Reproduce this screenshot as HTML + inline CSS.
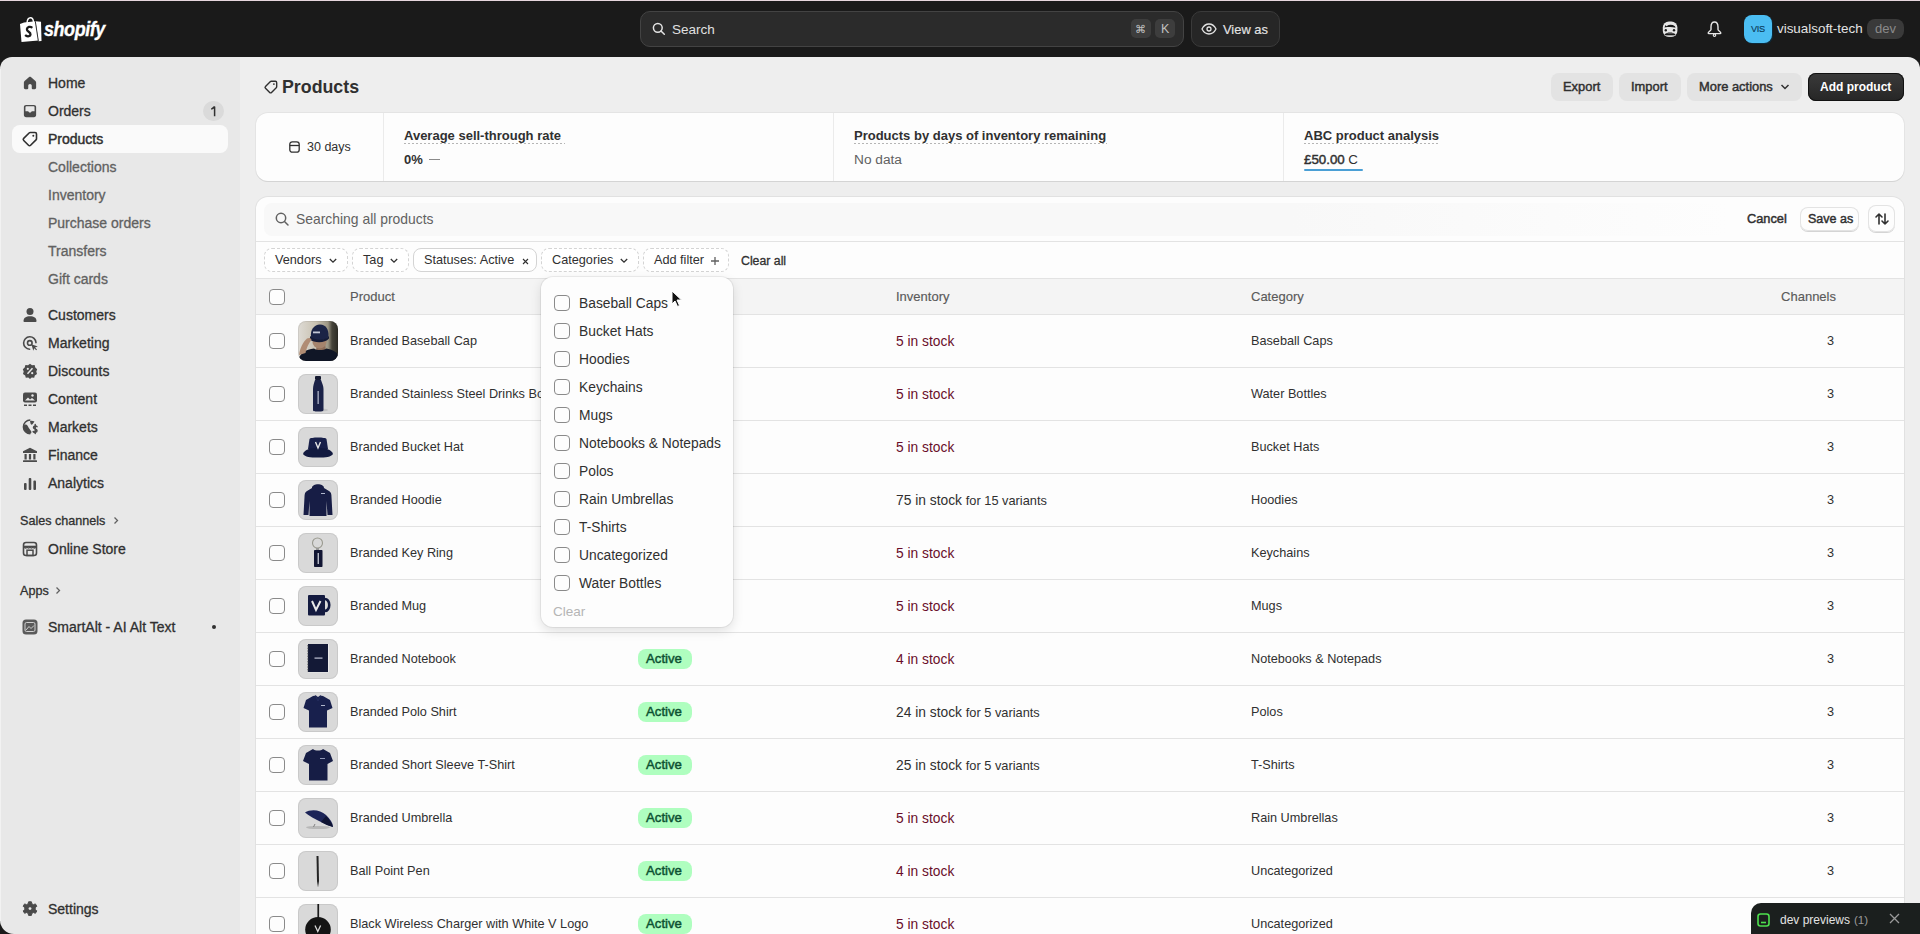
<!DOCTYPE html>
<html><head><meta charset="utf-8"><title>Products</title><style>
*{box-sizing:border-box;margin:0;padding:0}
html,body{width:1920px;height:934px;overflow:hidden}
body{position:relative;background:#1a1a1a;font-family:"Liberation Sans",sans-serif;color:#303030}
.a{position:absolute;white-space:nowrap}
.m{-webkit-text-stroke:0.3px currentColor}
.s{-webkit-text-stroke:0.15px currentColor}
.m2{-webkit-text-stroke:0.45px currentColor}
svg.a{overflow:visible}
</style></head><body>
<div class="a" style="left:0px;top:0px;width:1920px;height:1px;background:#e6d6dd"></div>
<div class="a" style="left:0px;top:57px;width:240px;height:877px;background:#e8e8e8;border-top-left-radius:12px;border-bottom-left-radius:14px"></div>
<div class="a" style="left:0px;top:69px;width:1px;height:852px;background:#f2f2f2"></div>
<div class="a" style="left:240px;top:57px;width:1680px;height:877px;background:#eeeeee;border-top-right-radius:12px"></div>
<svg class="a" style="left:20px;top:17px;" width="22" height="25" viewBox="0 0 22 25"><path d="M4 5.5 L15.5 4.2 L18.5 23.5 L1.5 25 L0 7 Z" fill="#fff"/>
<path d="M15.5 4.2 L21 4.8 L21.5 24 L18.5 24.2 Z" fill="#fff"/>
<path d="M15.3 4.3 L18.3 23.9" stroke="#1a1a1a" stroke-width=".9" fill="none"/>
<path d="M7 6.5 C7.2 2.5 9 0.8 10.5 0.8 C12.2 0.8 13.3 2.3 13.5 5.2" stroke="#fff" stroke-width="1.4" fill="none"/>
<path d="M11.6 10.2 C10.5 9.5 7.2 9.5 6.9 12.2 C6.6 14.8 10.8 14.8 10.5 17.5 C10.3 19.4 7.8 19.8 5.8 18.6" stroke="#1a1a1a" stroke-width="2.3" fill="none" stroke-linecap="round"/></svg>
<div class="a " style="left:44px;top:19.07px;font-size:20px;line-height:20px;font-weight:bold;color:#fff;font-style:italic;letter-spacing:-0.5px;transform:scaleX(.9);transform-origin:0 0;-webkit-text-stroke:.35px #fff">shopify</div>
<div class="a" style="left:640px;top:11px;width:544px;height:36px;background:#2b2b2b;border:1px solid #434343;border-radius:10px"></div>
<svg class="a" style="left:652px;top:22px;" width="14" height="14" viewBox="0 0 14 14"><circle cx="5.8" cy="5.8" r="4.4" stroke="#e3e3e3" stroke-width="1.5" fill="none"/><path d="M9 9 L12.3 12.3" stroke="#e3e3e3" stroke-width="1.5" stroke-linecap="round"/></svg>
<div class="a " style="left:672px;top:20.32px;font-size:13.5px;line-height:20px;font-weight:normal;color:#e0e0e0;">Search</div>
<div class="a" style="left:1131px;top:19px;width:20px;height:19px;background:#3d3d3d;border-radius:5px"></div>
<div class="a " style="left:1135px;top:19.19px;font-size:11px;line-height:20px;font-weight:normal;color:#c0c0c0;">&#8984;</div>
<div class="a" style="left:1155px;top:19px;width:20px;height:19px;background:#3d3d3d;border-radius:5px"></div>
<div class="a " style="left:1161px;top:19.17px;font-size:12.5px;line-height:20px;font-weight:normal;color:#c0c0c0;">K</div>
<div class="a" style="left:1191px;top:11px;width:89px;height:36px;background:#262626;border:1px solid #3a3a3a;border-radius:10px"></div>
<svg class="a" style="left:1201px;top:23px;" width="16" height="12" viewBox="0 0 16 12"><path d="M1 6 C3 2 5.5 1 8 1 C10.5 1 13 2 15 6 C13 10 10.5 11 8 11 C5.5 11 3 10 1 6 Z" stroke="#e3e3e3" stroke-width="1.3" fill="none"/><circle cx="8" cy="6" r="2" stroke="#e3e3e3" stroke-width="1.3" fill="none"/></svg>
<div class="a s" style="left:1223px;top:20.03px;font-size:12.9px;line-height:20px;font-weight:normal;color:#e3e3e3;">View as</div>
<svg class="a" style="left:1662px;top:21px;" width="16" height="16" viewBox="0 0 16 16"><rect x="0.8" y="0.5" width="14.6" height="15.5" rx="6" fill="#e6e6e6"/><path d="M2.5 6.5 L3.5 4 L4.5 5.2 C7 3.5 10 3.3 13 5.2 L13.5 6.8 C10 5.8 6.5 6 2.5 6.5 Z" fill="#1a1a1a"/><circle cx="3.8" cy="9.3" r="1.2" fill="#1a1a1a"/><circle cx="12" cy="9.3" r="1.2" fill="#1a1a1a"/><path d="M3 13 C5 11 11 11 13 13 C11 12.3 5 12.3 3 13 Z" fill="#1a1a1a"/><path d="M2.5 13.2 L5 12.5 L11 12.5 L13.5 13.2 L13 14.2 L3 14.2 Z" fill="#1a1a1a"/><path d="M3.5 14.2 L12.5 14.2 C12 15.5 4 15.5 3.5 14.2 Z" fill="#9a9a9a"/></svg>
<svg class="a" style="left:1707px;top:21px;" width="15" height="16" viewBox="0 0 15 16"><path d="M7.5 1 C5.2 1 4 3.2 4 6 L4 8.5 C4 9.8 1.2 10.8 1.2 12 C1.2 12.4 1.5 12.6 2 12.6 L13 12.6 C13.5 12.6 13.8 12.4 13.8 12 C13.8 10.8 11 9.8 11 8.5 L11 6 C11 3.2 9.8 1 7.5 1 Z" stroke="#e6e6e6" stroke-width="1.4" fill="none" stroke-linejoin="round"/><circle cx="7.5" cy="14.2" r="1.2" stroke="#e6e6e6" stroke-width="1.2" fill="none"/></svg>
<div class="a" style="left:1744px;top:15px;width:28px;height:28px;background:#4bbdf2;border-radius:8px;box-shadow:1px 1px 0 #0d2a3a"></div>
<div class="a s" style="left:1751px;top:18.81px;font-size:9.2px;line-height:20px;font-weight:normal;color:#0b3b5a;letter-spacing:-0.4px">VIS</div>
<div class="a " style="left:1777px;top:19.36px;font-size:13.4px;line-height:20px;font-weight:normal;color:#e3e3e3;">visualsoft-tech</div>
<div class="a" style="left:1867px;top:19px;width:37px;height:20px;background:#3a3a3a;border-radius:8px"></div>
<div class="a " style="left:1875px;top:18.50px;font-size:13px;line-height:20px;font-weight:normal;color:#8a8a8a;">dev</div>
<svg class="a" style="left:23px;top:76px;" width="14" height="14" viewBox="0 0 16 16"><path d="M7 1.2 C7.6 0.7 8.4 0.7 9 1.2 L14.2 5.6 C14.7 6 15 6.6 15 7.3 L15 13.5 C15 14.4 14.3 15 13.5 15 L11 15 C10.5 15 10 14.6 10 14 L10 11 C10 9.9 9.1 9 8 9 C6.9 9 6 9.9 6 11 L6 14 C6 14.6 5.5 15 5 15 L2.5 15 C1.7 15 1 14.4 1 13.5 L1 7.3 C1 6.6 1.3 6 1.8 5.6 Z" fill="#4a4a4a"/></svg>
<div class="a m" style="left:48px;top:73.15px;font-size:14px;line-height:20px;font-weight:normal;color:#303030;">Home</div>
<svg class="a" style="left:23px;top:104px;" width="14" height="14" viewBox="0 0 16 16"><path d="M3.5 1 L12.5 1 C14 1 15 2 15 3.5 L15 12.5 C15 14 14 15 12.5 15 L3.5 15 C2 15 1 14 1 12.5 L1 3.5 C1 2 2 1 3.5 1 Z M2.8 8.2 L5.8 8.2 C6.4 8.2 6.6 9.8 8 9.8 C9.4 9.8 9.6 8.2 10.2 8.2 L13.2 8.2 L13.2 3.8 C13.2 3.1 12.8 2.7 12.2 2.7 L3.8 2.7 C3.2 2.7 2.8 3.1 2.8 3.8 Z" fill="#4a4a4a" fill-rule="evenodd"/></svg>
<div class="a m" style="left:48px;top:101.15px;font-size:14px;line-height:20px;font-weight:normal;color:#303030;">Orders</div>
<div class="a" style="left:203px;top:101px;width:21px;height:20px;background:#dadada;border-radius:10px"></div>
<svg class="a" style="left:210px;top:105.8px;" width="8" height="11" viewBox="0 0 8 11"><path d="M4.6 10.2 L4.6 1 L4 1 C3.3 2.2 2.3 2.8 1.2 3.1" stroke="#303030" stroke-width="1.5" fill="none" stroke-linejoin="round"/></svg>
<div class="a" style="left:12px;top:125px;width:216px;height:28px;background:#fafafa;border-radius:8px"></div>
<svg class="a" style="left:22px;top:131px;" width="16" height="16" viewBox="0 0 16 16"><path d="M8.2 1.5 L13 1.5 C13.8 1.5 14.5 2.2 14.5 3 L14.5 7.8 C14.5 8.2 14.3 8.6 14 8.9 L8.6 14.3 C8 14.9 7.1 14.9 6.5 14.3 L1.7 9.5 C1.1 8.9 1.1 8 1.7 7.4 L7.1 2 C7.4 1.7 7.8 1.5 8.2 1.5 Z" stroke="#303030" stroke-width="1.6" fill="none" stroke-linejoin="round"/><circle cx="11.3" cy="4.7" r="1" fill="#303030"/></svg>
<div class="a m2" style="left:48px;top:129.15px;font-size:14px;line-height:20px;font-weight:normal;color:#303030;">Products</div>
<div class="a m" style="left:48px;top:157.15px;font-size:14px;line-height:20px;font-weight:normal;color:#616161;">Collections</div>
<div class="a m" style="left:48px;top:185.15px;font-size:14px;line-height:20px;font-weight:normal;color:#616161;">Inventory</div>
<div class="a m" style="left:48px;top:213.15px;font-size:14px;line-height:20px;font-weight:normal;color:#616161;">Purchase orders</div>
<div class="a m" style="left:48px;top:241.15px;font-size:14px;line-height:20px;font-weight:normal;color:#616161;">Transfers</div>
<div class="a m" style="left:48px;top:269.15px;font-size:14px;line-height:20px;font-weight:normal;color:#616161;">Gift cards</div>
<svg class="a" style="left:22px;top:307px;" width="16" height="16" viewBox="0 0 16 16"><circle cx="8" cy="4.5" r="3.5" fill="#4a4a4a"/><path d="M1.5 14.2 C1.5 10.8 4 9.3 8 9.3 C12 9.3 14.5 10.8 14.5 14.2 C14.5 14.7 14.1 15 13.6 15 L2.4 15 C1.9 15 1.5 14.7 1.5 14.2 Z" fill="#4a4a4a"/></svg>
<div class="a m" style="left:48px;top:305.15px;font-size:14px;line-height:20px;font-weight:normal;color:#303030;">Customers</div>
<svg class="a" style="left:22px;top:335px;" width="16" height="16" viewBox="0 0 16 16"><path d="M14 7.6 A6.2 6.2 0 1 0 7.6 14.2" stroke="#4a4a4a" stroke-width="1.6" fill="none" stroke-linecap="round"/><circle cx="7.8" cy="7.9" r="2.3" stroke="#4a4a4a" stroke-width="1.6" fill="none"/><path d="M9.4 9.3 L15.8 11.4 L13 12.4 L15 14.4 L14.2 15.2 L12.2 13.2 L11.3 15.8 Z" fill="#4a4a4a"/></svg>
<div class="a m" style="left:48px;top:333.15px;font-size:14px;line-height:20px;font-weight:normal;color:#303030;">Marketing</div>
<svg class="a" style="left:22px;top:363px;" width="16" height="16" viewBox="0 0 16 16"><path d="M8 0.8 L10 2.3 L12.6 2.1 L13.3 4.5 L15.2 6.2 L14.3 8.6 L15 11 L12.8 12.4 L12.2 14.8 L9.7 14.6 L8 16 L6.3 14.6 L3.8 14.8 L3.2 12.4 L1 11 L1.7 8.6 L0.8 6.2 L2.7 4.5 L3.4 2.1 L6 2.3 Z" fill="#4a4a4a"/><path d="M5.5 10.8 L10.5 5.2" stroke="#e8e8e8" stroke-width="1.5"/><circle cx="5.8" cy="5.8" r="1.1" fill="#e8e8e8"/><circle cx="10.2" cy="10.2" r="1.1" fill="#e8e8e8"/></svg>
<div class="a m" style="left:48px;top:361.15px;font-size:14px;line-height:20px;font-weight:normal;color:#303030;">Discounts</div>
<svg class="a" style="left:22px;top:391px;" width="16" height="16" viewBox="0 0 16 16"><rect x="1" y="1.5" width="14" height="10" rx="2" fill="#4a4a4a"/><path d="M3 9.5 L6 6.5 L8 8.5 L10 7 L13 9.5 Z" fill="#e8e8e8"/><circle cx="10.5" cy="4.5" r="1.2" fill="#e8e8e8"/><path d="M2 14.2 L14 14.2" stroke="#4a4a4a" stroke-width="1.6" stroke-dasharray="3 1.5"/></svg>
<div class="a m" style="left:48px;top:389.15px;font-size:14px;line-height:20px;font-weight:normal;color:#303030;">Content</div>
<svg class="a" style="left:22px;top:419px;" width="16" height="16" viewBox="0 0 16 16"><path d="M8.3 1 A6.9 6.9 0 1 0 8.3 14.8" stroke="#4a4a4a" stroke-width="1.5" fill="none"/><path d="M2.2 6 C3.5 5 5 5.5 6 7.5 C7 9.5 8.5 11 9.5 13 L9 14.6 C5 14.8 1.5 11.5 1.6 8 Z" fill="#4a4a4a"/><path d="M8 2 C9 1.5 11 1.6 12.5 2.6 L10.5 5.3 C9.5 6 8.7 5.6 8.5 4.5 Z" fill="#4a4a4a"/><path d="M15 7.6 C14.4 6.8 11.5 6.6 11.5 8.4 C11.5 10.2 15 9.8 15 11.8 C15 13.6 12.2 13.6 11.2 12.6 M13.2 5.5 L13.2 14.5" stroke="#4a4a4a" stroke-width="1.5" fill="none" stroke-linecap="round"/></svg>
<div class="a m" style="left:48px;top:417.15px;font-size:14px;line-height:20px;font-weight:normal;color:#303030;">Markets</div>
<svg class="a" style="left:22px;top:447px;" width="16" height="16" viewBox="0 0 16 16"><path d="M8 0.8 L15 4.3 L15 6 L1 6 L1 4.3 Z" fill="#4a4a4a"/><rect x="2.5" y="7" width="2.2" height="5.5" fill="#4a4a4a"/><rect x="6.9" y="7" width="2.2" height="5.5" fill="#4a4a4a"/><rect x="11.3" y="7" width="2.2" height="5.5" fill="#4a4a4a"/><rect x="1" y="13.3" width="14" height="1.8" rx=".5" fill="#4a4a4a"/></svg>
<div class="a m" style="left:48px;top:445.15px;font-size:14px;line-height:20px;font-weight:normal;color:#303030;">Finance</div>
<svg class="a" style="left:22px;top:475px;" width="16" height="16" viewBox="0 0 16 16"><rect x="2" y="8" width="2.6" height="7" rx="1" fill="#4a4a4a"/><rect x="6.7" y="3" width="2.6" height="12" rx="1" fill="#4a4a4a"/><rect x="11.4" y="5.5" width="2.6" height="9.5" rx="1" fill="#4a4a4a"/></svg>
<div class="a m" style="left:48px;top:473.15px;font-size:14px;line-height:20px;font-weight:normal;color:#303030;">Analytics</div>
<div class="a m" style="left:20px;top:510.63px;font-size:12.6px;line-height:20px;font-weight:normal;color:#303030;">Sales channels</div>
<svg class="a" style="left:112px;top:516px;" width="8" height="9" viewBox="0 0 8 9"><path d="M2.5 1.5 L5.5 4.5 L2.5 7.5" stroke="#616161" stroke-width="1.3" fill="none"/></svg>
<svg class="a" style="left:22px;top:541px;" width="16" height="16" viewBox="0 0 16 16"><rect x="1.5" y="1.5" width="13" height="13" rx="2.5" stroke="#4a4a4a" stroke-width="1.6" fill="none"/><path d="M1.5 5.5 L14.5 5.5" stroke="#4a4a4a" stroke-width="1.6"/><path d="M2.5 5.5 C2.5 7.5 5 7.5 5.3 5.5 C5.5 7.5 7.8 7.5 8 5.5 C8.2 7.5 10.5 7.5 10.7 5.5 C11 7.5 13.5 7.5 13.5 5.5" stroke="#4a4a4a" stroke-width="1.4" fill="none"/><rect x="5" y="9.2" width="6" height="5.3" stroke="#4a4a4a" stroke-width="1.5" fill="none"/></svg>
<div class="a m" style="left:48px;top:539.15px;font-size:14px;line-height:20px;font-weight:normal;color:#303030;">Online Store</div>
<div class="a m" style="left:20px;top:580.63px;font-size:12.6px;line-height:20px;font-weight:normal;color:#303030;">Apps</div>
<svg class="a" style="left:54px;top:586px;" width="8" height="9" viewBox="0 0 8 9"><path d="M2.5 1.5 L5.5 4.5 L2.5 7.5" stroke="#616161" stroke-width="1.3" fill="none"/></svg>
<svg class="a" style="left:22px;top:619px;" width="16" height="16" viewBox="0 0 16 16"><rect x="0.5" y="0.5" width="15" height="15" rx="3.5" fill="#5a5a5a"/><rect x="3" y="3.5" width="10" height="9" rx="1.5" stroke="#d0d0d0" stroke-width="1" fill="none"/><path d="M4 11 L7 7.5 L9 9.5 L12 6.5" stroke="#d0d0d0" stroke-width="1" fill="none"/></svg>
<div class="a m" style="left:48px;top:617.15px;font-size:14px;line-height:20px;font-weight:normal;color:#303030;">SmartAlt - AI Alt Text</div>
<div class="a" style="left:212px;top:625px;width:4px;height:4px;background:#303030;border-radius:50%"></div>
<svg class="a" style="left:22px;top:901px;" width="16" height="16" viewBox="0 0 16 16"><path d="M6.6 0.8 L9.4 0.8 L9.9 2.9 L11.4 3.7 L13.4 2.9 L14.8 5.3 L13.2 6.7 L13.2 8.5 L14.8 9.9 L13.4 12.3 L11.4 11.5 L9.9 12.3 L9.4 14.4 L6.6 14.4 L6.1 12.3 L4.6 11.5 L2.6 12.3 L1.2 9.9 L2.8 8.5 L2.8 6.7 L1.2 5.3 L2.6 2.9 L4.6 3.7 L6.1 2.9 Z" fill="#4a4a4a" stroke="#4a4a4a" stroke-width="1" stroke-linejoin="round"/><circle cx="8" cy="7.6" r="1.4" fill="#e8e8e8"/></svg>
<div class="a m" style="left:48px;top:899.15px;font-size:14px;line-height:20px;font-weight:normal;color:#303030;">Settings</div>
<svg class="a" style="left:264px;top:80px;" width="14" height="14" viewBox="0 0 16 16"><path d="M8.2 1.5 L13 1.5 C13.8 1.5 14.5 2.2 14.5 3 L14.5 7.8 C14.5 8.2 14.3 8.6 14 8.9 L8.6 14.3 C8 14.9 7.1 14.9 6.5 14.3 L1.7 9.5 C1.1 8.9 1.1 8 1.7 7.4 L7.1 2 C7.4 1.7 7.8 1.5 8.2 1.5 Z" stroke="#303030" stroke-width="1.6" fill="none" stroke-linejoin="round"/><circle cx="11.3" cy="4.7" r="1" fill="#303030"/></svg>
<div class="a " style="left:282px;top:76.83px;font-size:17.8px;line-height:20px;font-weight:bold;color:#303030;">Products</div>
<div class="a" style="left:1551px;top:73px;width:62px;height:28px;background:#e3e3e3;border-radius:8px"></div>
<div class="a m2" style="left:1563px;top:76.53px;font-size:12.9px;line-height:20px;font-weight:normal;color:#303030;">Export</div>
<div class="a" style="left:1619px;top:73px;width:62px;height:28px;background:#e3e3e3;border-radius:8px"></div>
<div class="a m2" style="left:1631px;top:76.53px;font-size:12.9px;line-height:20px;font-weight:normal;color:#303030;">Import</div>
<div class="a" style="left:1687px;top:73px;width:115px;height:28px;background:#e3e3e3;border-radius:8px"></div>
<div class="a m2" style="left:1699px;top:76.53px;font-size:12.9px;line-height:20px;font-weight:normal;color:#303030;">More actions</div>
<svg class="a" style="left:1780px;top:83px;" width="10" height="8" viewBox="0 0 10 8"><path d="M1.5 2 L5 5.5 L8.5 2" stroke="#303030" stroke-width="1.5" fill="none"/></svg>
<div class="a" style="left:1808px;top:73px;width:96px;height:28px;background:linear-gradient(#3a3a3a,#262626);border-radius:8px;box-shadow:0 0 0 1px #111 inset,0 1px 0 rgba(255,255,255,.15) inset"></div>
<div class="a " style="left:1820px;top:76.84px;font-size:12px;line-height:20px;font-weight:bold;color:#fff;">Add product</div>
<div class="a" style="left:256px;top:113px;width:1648px;height:68px;background:#fdfdfd;border-radius:12px;box-shadow:0 1px 0 #d4d4d4, 0 0 0 1px rgba(0,0,0,.04)"></div>
<div class="a" style="left:383px;top:113px;width:1px;height:68px;background:#ebebeb"></div>
<div class="a" style="left:833px;top:113px;width:1px;height:68px;background:#ebebeb"></div>
<div class="a" style="left:1283px;top:113px;width:1px;height:68px;background:#ebebeb"></div>
<svg class="a" style="left:289px;top:141px;" width="11" height="12" viewBox="0 0 11 12"><rect x="0.8" y="0.8" width="9.4" height="10.4" rx="2.5" stroke="#303030" stroke-width="1.3" fill="none"/><path d="M0.8 4.5 L10.2 4.5" stroke="#303030" stroke-width="1.3"/></svg>
<div class="a " style="left:307px;top:137.17px;font-size:12.5px;line-height:20px;font-weight:normal;color:#303030;">30 days</div>
<div class="a " style="left:404px;top:125.50px;font-size:13px;line-height:20px;font-weight:bold;color:#303030;">Average sell-through rate</div>
<div class="a" style="left:404px;top:143px;width:161px;height:1px;background-image:linear-gradient(90deg,#b5b5b5 50%,transparent 50%);background-size:4px 1px"></div>
<div class="a " style="left:404px;top:149.50px;font-size:13px;line-height:20px;font-weight:bold;color:#303030;">0%</div>
<div class="a" style="left:429px;top:159px;width:11px;height:1.2px;background:#8a8a8a"></div>
<div class="a " style="left:854px;top:125.50px;font-size:13px;line-height:20px;font-weight:bold;color:#303030;">Products by days of inventory remaining</div>
<div class="a" style="left:854px;top:143px;width:253px;height:1px;background-image:linear-gradient(90deg,#b5b5b5 50%,transparent 50%);background-size:4px 1px"></div>
<div class="a " style="left:854px;top:150.25px;font-size:13.7px;line-height:20px;font-weight:normal;color:#616161;">No data</div>
<div class="a " style="left:1304px;top:125.50px;font-size:13px;line-height:20px;font-weight:bold;color:#303030;">ABC product analysis</div>
<div class="a" style="left:1304px;top:143px;width:135px;height:1px;background-image:linear-gradient(90deg,#b5b5b5 50%,transparent 50%);background-size:4px 1px"></div>
<div class="a " style="left:1304px;top:149.89px;font-size:13.3px;line-height:20px;font-weight:normal;color:#303030;"><span class="m2">&pound;50.00</span> C</div>
<div class="a" style="left:1304px;top:169px;width:59px;height:2px;background:#4a9fd5;border-radius:1px"></div>
<div class="a" style="left:256px;top:197px;width:1648px;height:760px;background:#fdfdfd;border-radius:12px;box-shadow:0 0 0 1px rgba(0,0,0,.05)"></div>
<div class="a" style="left:264px;top:203px;width:1466px;height:33px;background:linear-gradient(90deg,#f8f8f8 0%,#f8f8f8 70%,rgba(248,248,248,0) 100%);border-radius:8px"></div>
<svg class="a" style="left:275px;top:212px;" width="14" height="14" viewBox="0 0 14 14"><circle cx="6" cy="6" r="4.7" stroke="#616161" stroke-width="1.5" fill="none"/><path d="M9.5 9.5 L13 13" stroke="#616161" stroke-width="1.5" stroke-linecap="round"/></svg>
<div class="a " style="left:296px;top:208.68px;font-size:13.9px;line-height:20px;font-weight:normal;color:#616161;">Searching all products</div>
<div class="a m2" style="left:1747px;top:208.56px;font-size:12.8px;line-height:20px;font-weight:normal;color:#303030;">Cancel</div>
<div class="a" style="left:1800px;top:207px;width:59px;height:24px;background:#fdfdfd;border-radius:8px;box-shadow:0 0 0 1px #e3e3e3 inset,0 1px 0 #d4d4d4"></div>
<div class="a m2" style="left:1808px;top:208.67px;font-size:12.5px;line-height:20px;font-weight:normal;color:#303030;">Save as</div>
<div class="a" style="left:1868px;top:205px;width:27px;height:27px;background:#fdfdfd;border-radius:8px;box-shadow:0 0 0 1px #e3e3e3 inset,0 1px 0 #d4d4d4"></div>
<svg class="a" style="left:1874px;top:211px;" width="16" height="16" viewBox="0 0 16 16"><path d="M5 13 L5 3 M2 6 L5 3 L8 6" stroke="#303030" stroke-width="1.6" fill="none" stroke-linecap="round" stroke-linejoin="round"/><path d="M11 3 L11 13 M8 10 L11 13 L14 10" stroke="#303030" stroke-width="1.6" fill="none" stroke-linecap="round" stroke-linejoin="round"/></svg>
<div class="a" style="left:256px;top:241px;width:1648px;height:1px;background:#e3e3e3"></div>
<div class="a" style="left:264px;top:248px;width:84px;height:24px;border:1px dashed #d4d4d4;border-radius:8px;background:#fff"></div>
<div class="a " style="left:275px;top:249.60px;font-size:12.7px;line-height:20px;font-weight:normal;color:#303030;">Vendors</div>
<svg class="a" style="left:328px;top:257px;" width="10" height="8" viewBox="0 0 10 8"><path d="M1.8 2 L5 5.2 L8.2 2" stroke="#303030" stroke-width="1.3" fill="none"/></svg>
<div class="a" style="left:352px;top:248px;width:57px;height:24px;border:1px dashed #d4d4d4;border-radius:8px;background:#fff"></div>
<div class="a " style="left:363px;top:249.60px;font-size:12.7px;line-height:20px;font-weight:normal;color:#303030;">Tag</div>
<svg class="a" style="left:389px;top:257px;" width="10" height="8" viewBox="0 0 10 8"><path d="M1.8 2 L5 5.2 L8.2 2" stroke="#303030" stroke-width="1.3" fill="none"/></svg>
<div class="a" style="left:413px;top:248px;width:124px;height:24px;border:1px solid #d4d4d4;border-radius:8px;background:#fff"></div>
<div class="a " style="left:424px;top:249.60px;font-size:12.7px;line-height:20px;font-weight:normal;color:#303030;">Statuses: Active</div>
<svg class="a" style="left:521px;top:256.5px;" width="9" height="9" viewBox="0 0 9 9"><path d="M2 2 L7 7 M7 2 L2 7" stroke="#303030" stroke-width="1.1"/></svg>
<div class="a" style="left:541px;top:248px;width:98px;height:24px;border:1px dashed #d4d4d4;border-radius:8px;background:#fff"></div>
<div class="a " style="left:552px;top:249.60px;font-size:12.7px;line-height:20px;font-weight:normal;color:#303030;">Categories</div>
<svg class="a" style="left:619px;top:257px;" width="10" height="8" viewBox="0 0 10 8"><path d="M1.8 2 L5 5.2 L8.2 2" stroke="#303030" stroke-width="1.3" fill="none"/></svg>
<div class="a" style="left:643px;top:248px;width:86px;height:24px;border:1px dashed #d4d4d4;border-radius:8px;background:#fff"></div>
<div class="a " style="left:654px;top:249.60px;font-size:12.7px;line-height:20px;font-weight:normal;color:#303030;">Add filter</div>
<svg class="a" style="left:710px;top:256px;" width="10" height="10" viewBox="0 0 10 10"><path d="M5 1 L5 9 M1 5 L9 5" stroke="#616161" stroke-width="1.3"/></svg>
<div class="a m" style="left:741px;top:250.74px;font-size:12.3px;line-height:20px;font-weight:normal;color:#303030;">Clear all</div>
<div class="a" style="left:256px;top:278px;width:1648px;height:37px;background:#f4f4f4;border-top:1px solid #e3e3e3;border-bottom:1px solid #e3e3e3"></div>
<div class="a" style="left:269px;top:289px;width:16px;height:16px;background:#fdfdfd;border:1px solid #8a8a8a;border-radius:4px"></div>
<div class="a s" style="left:350px;top:286.50px;font-size:13px;line-height:20px;font-weight:normal;color:#5a5a5a;">Product</div>
<div class="a s" style="left:896px;top:286.50px;font-size:13px;line-height:20px;font-weight:normal;color:#5a5a5a;">Inventory</div>
<div class="a s" style="left:1251px;top:286.50px;font-size:13px;line-height:20px;font-weight:normal;color:#5a5a5a;">Category</div>
<div class="a s" style="right:84px;top:286.50px;font-size:13px;line-height:20px;font-weight:normal;color:#5a5a5a;text-align:right;">Channels</div>
<div class="a" style="left:256px;top:367px;width:1648px;height:1px;background:#e3e3e3"></div>
<div class="a" style="left:269px;top:333px;width:16px;height:16px;background:#fdfdfd;border:1px solid #8a8a8a;border-radius:4px"></div>
<div class="a" style="left:298px;top:321px;width:40px;height:40px;border-radius:8px;overflow:hidden;box-shadow:0 0 0 1px rgba(0,0,0,.06) inset"><svg width="40" height="40" viewBox="0 0 40 40" style="display:block"><defs><linearGradient id="cg" x1="0" x2="1"><stop offset="0" stop-color="#dedbd5"/><stop offset=".45" stop-color="#c9c2b2"/><stop offset=".75" stop-color="#9c9684"/><stop offset=".85" stop-color="#45433a"/><stop offset="1" stop-color="#2c2b25"/></linearGradient></defs><rect width="40" height="40" fill="url(#cg)"/><path d="M19 22 L27 22 L28 30 L18 30 Z" fill="#8e6e5a"/><ellipse cx="21.5" cy="21" rx="7" ry="6.5" fill="#a5846d"/><path d="M0 40 C1 33 8 28 16 27.5 C19 29.5 25 29.5 28.5 27.5 C34 28.5 39 31 40 34 L40 40 Z" fill="#101626"/><path d="M13 16.5 C12 9 16 3.5 22 3.5 C28 3.5 31 8.5 30.5 16 C27 20.5 16 20.5 13 16.5 Z" fill="#1b2446"/><path d="M12 15 C16 19.5 27 20.5 31 15 L31 17.5 C27 22.5 16 22 12 18.5 Z" fill="#141b36"/><rect x="15" y="10.5" width="7" height="1.8" fill="#c4c8d6"/><path d="M1 34 C2 27 5 21 9 17.5 C11 16.5 13 17 13.5 18.5 C12 21 9 25 7.5 32 Z" fill="#b08c74"/></svg></div>
<div class="a" style="left:298px;top:321px;width:40px;height:40px;border-radius:8px;box-shadow:0 0 0 1px rgba(0,0,0,.07) inset"></div>
<div class="a " style="left:350px;top:330.60px;font-size:12.7px;line-height:20px;font-weight:normal;color:#303030;">Branded Baseball Cap</div>
<div class="a" style="left:638px;top:331px;width:54px;height:20px;background:#affebf;border-radius:8px"></div>
<div class="a m2" style="left:646px;top:331.43px;font-size:13.2px;line-height:20px;font-weight:normal;color:#0c5132;">Active</div>
<div class="a " style="left:896px;top:332.22px;font-size:13.8px;line-height:20px;font-weight:normal;color:#6a0d2a;">5 in stock</div>
<div class="a " style="left:1251px;top:330.60px;font-size:12.7px;line-height:20px;font-weight:normal;color:#303030;">Baseball Caps</div>
<div class="a " style="right:86px;top:330.60px;font-size:12.7px;line-height:20px;font-weight:normal;color:#303030;text-align:right;">3</div>
<div class="a" style="left:256px;top:420px;width:1648px;height:1px;background:#e3e3e3"></div>
<div class="a" style="left:269px;top:386px;width:16px;height:16px;background:#fdfdfd;border:1px solid #8a8a8a;border-radius:4px"></div>
<div class="a" style="left:298px;top:374px;width:40px;height:40px;border-radius:8px;overflow:hidden;box-shadow:0 0 0 1px rgba(0,0,0,.06) inset"><svg width="40" height="40" viewBox="0 0 40 40" style="display:block"><rect width="40" height="40" fill="#d9d9d9"/><ellipse cx="24" cy="36" rx="6" ry="1.5" fill="#c4c4c4"/><rect x="17" y="2" width="6" height="4" rx="1" fill="#151a30"/><path d="M17 6 L23 6 C24 9 25.5 12 25.5 15 L25.5 36 C25.5 37 24 37.5 20 37.5 C16 37.5 15 37 15 36 L15 15 C15 12 16 9 17 6 Z" fill="#1b2248"/><rect x="19.5" y="17" width="1.3" height="13" fill="#aeb4c8"/></svg></div>
<div class="a" style="left:298px;top:374px;width:40px;height:40px;border-radius:8px;box-shadow:0 0 0 1px rgba(0,0,0,.07) inset"></div>
<div class="a " style="left:350px;top:383.60px;font-size:12.7px;line-height:20px;font-weight:normal;color:#303030;">Branded Stainless Steel Drinks Bottle</div>
<div class="a" style="left:638px;top:384px;width:54px;height:20px;background:#affebf;border-radius:8px"></div>
<div class="a m2" style="left:646px;top:384.43px;font-size:13.2px;line-height:20px;font-weight:normal;color:#0c5132;">Active</div>
<div class="a " style="left:896px;top:385.22px;font-size:13.8px;line-height:20px;font-weight:normal;color:#6a0d2a;">5 in stock</div>
<div class="a " style="left:1251px;top:383.60px;font-size:12.7px;line-height:20px;font-weight:normal;color:#303030;">Water Bottles</div>
<div class="a " style="right:86px;top:383.60px;font-size:12.7px;line-height:20px;font-weight:normal;color:#303030;text-align:right;">3</div>
<div class="a" style="left:256px;top:473px;width:1648px;height:1px;background:#e3e3e3"></div>
<div class="a" style="left:269px;top:439px;width:16px;height:16px;background:#fdfdfd;border:1px solid #8a8a8a;border-radius:4px"></div>
<div class="a" style="left:298px;top:427px;width:40px;height:40px;border-radius:8px;overflow:hidden;box-shadow:0 0 0 1px rgba(0,0,0,.06) inset"><svg width="40" height="40" viewBox="0 0 40 40" style="display:block"><rect width="40" height="40" fill="#d9d9d9"/><path d="M10 22 L11.5 12 C12 10 28 10 28.5 12 L30 22 Z" fill="#18204a"/><path d="M5 27 C7 22 12 21 20 21 C28 21 33 22 35 27 C33 30 28 30.5 20 30.5 C12 30.5 7 30 5 27 Z" fill="#121a40"/><path d="M17.5 15 L20 21 L22.5 15" stroke="#e6e6e6" stroke-width="1.4" fill="none"/></svg></div>
<div class="a" style="left:298px;top:427px;width:40px;height:40px;border-radius:8px;box-shadow:0 0 0 1px rgba(0,0,0,.07) inset"></div>
<div class="a " style="left:350px;top:436.60px;font-size:12.7px;line-height:20px;font-weight:normal;color:#303030;">Branded Bucket Hat</div>
<div class="a" style="left:638px;top:437px;width:54px;height:20px;background:#affebf;border-radius:8px"></div>
<div class="a m2" style="left:646px;top:437.43px;font-size:13.2px;line-height:20px;font-weight:normal;color:#0c5132;">Active</div>
<div class="a " style="left:896px;top:438.22px;font-size:13.8px;line-height:20px;font-weight:normal;color:#6a0d2a;">5 in stock</div>
<div class="a " style="left:1251px;top:436.60px;font-size:12.7px;line-height:20px;font-weight:normal;color:#303030;">Bucket Hats</div>
<div class="a " style="right:86px;top:436.60px;font-size:12.7px;line-height:20px;font-weight:normal;color:#303030;text-align:right;">3</div>
<div class="a" style="left:256px;top:526px;width:1648px;height:1px;background:#e3e3e3"></div>
<div class="a" style="left:269px;top:492px;width:16px;height:16px;background:#fdfdfd;border:1px solid #8a8a8a;border-radius:4px"></div>
<div class="a" style="left:298px;top:480px;width:40px;height:40px;border-radius:8px;overflow:hidden;box-shadow:0 0 0 1px rgba(0,0,0,.06) inset"><svg width="40" height="40" viewBox="0 0 40 40" style="display:block"><rect width="40" height="40" fill="#d9d9d9"/><path d="M14 8 C14 3 26 3 26 8 L31 11 C33 12 33.5 14 33.5 17 L34.5 35 L29.5 35 L28.5 21 L28.5 36 L11.5 36 L11.5 21 L10.5 35 L5.5 35 L6.5 17 C6.5 14 7 12 9 11 Z" fill="#171d45"/><rect x="23" y="13" width="4" height="1" fill="#b0b6cc"/></svg></div>
<div class="a" style="left:298px;top:480px;width:40px;height:40px;border-radius:8px;box-shadow:0 0 0 1px rgba(0,0,0,.07) inset"></div>
<div class="a " style="left:350px;top:489.60px;font-size:12.7px;line-height:20px;font-weight:normal;color:#303030;">Branded Hoodie</div>
<div class="a" style="left:638px;top:490px;width:54px;height:20px;background:#affebf;border-radius:8px"></div>
<div class="a m2" style="left:646px;top:490.43px;font-size:13.2px;line-height:20px;font-weight:normal;color:#0c5132;">Active</div>
<div class="a " style="left:896px;top:491.22px;font-size:13.8px;line-height:20px;font-weight:normal;color:#303030;">75 in stock <span style="font-size:12.8px">for 15 variants</span></div>
<div class="a " style="left:1251px;top:489.60px;font-size:12.7px;line-height:20px;font-weight:normal;color:#303030;">Hoodies</div>
<div class="a " style="right:86px;top:489.60px;font-size:12.7px;line-height:20px;font-weight:normal;color:#303030;text-align:right;">3</div>
<div class="a" style="left:256px;top:579px;width:1648px;height:1px;background:#e3e3e3"></div>
<div class="a" style="left:269px;top:545px;width:16px;height:16px;background:#fdfdfd;border:1px solid #8a8a8a;border-radius:4px"></div>
<div class="a" style="left:298px;top:533px;width:40px;height:40px;border-radius:8px;overflow:hidden;box-shadow:0 0 0 1px rgba(0,0,0,.06) inset"><svg width="40" height="40" viewBox="0 0 40 40" style="display:block"><rect width="40" height="40" fill="#d9d9d9"/><circle cx="19.5" cy="10" r="5" stroke="#9a9a90" stroke-width="1.1" fill="none"/><rect x="18" y="15" width="3" height="2.5" fill="#999"/><rect x="16" y="17" width="8.5" height="17" rx="0.8" fill="#121633"/><rect x="19.6" y="20" width="1.3" height="11" fill="#c9cdd8"/></svg></div>
<div class="a" style="left:298px;top:533px;width:40px;height:40px;border-radius:8px;box-shadow:0 0 0 1px rgba(0,0,0,.07) inset"></div>
<div class="a " style="left:350px;top:542.60px;font-size:12.7px;line-height:20px;font-weight:normal;color:#303030;">Branded Key Ring</div>
<div class="a" style="left:638px;top:543px;width:54px;height:20px;background:#affebf;border-radius:8px"></div>
<div class="a m2" style="left:646px;top:543.43px;font-size:13.2px;line-height:20px;font-weight:normal;color:#0c5132;">Active</div>
<div class="a " style="left:896px;top:544.22px;font-size:13.8px;line-height:20px;font-weight:normal;color:#6a0d2a;">5 in stock</div>
<div class="a " style="left:1251px;top:542.60px;font-size:12.7px;line-height:20px;font-weight:normal;color:#303030;">Keychains</div>
<div class="a " style="right:86px;top:542.60px;font-size:12.7px;line-height:20px;font-weight:normal;color:#303030;text-align:right;">3</div>
<div class="a" style="left:256px;top:632px;width:1648px;height:1px;background:#e3e3e3"></div>
<div class="a" style="left:269px;top:598px;width:16px;height:16px;background:#fdfdfd;border:1px solid #8a8a8a;border-radius:4px"></div>
<div class="a" style="left:298px;top:586px;width:40px;height:40px;border-radius:8px;overflow:hidden;box-shadow:0 0 0 1px rgba(0,0,0,.06) inset"><svg width="40" height="40" viewBox="0 0 40 40" style="display:block"><rect width="40" height="40" fill="#d9d9d9"/><path d="M26 13 C33 12 33 26 26 25" stroke="#121a40" stroke-width="2.6" fill="none"/><rect x="10" y="9" width="17" height="20.5" rx="1" fill="#141b40"/><path d="M14 15 L18 24 L22.5 15" stroke="#e8e8e8" stroke-width="2" fill="none"/></svg></div>
<div class="a" style="left:298px;top:586px;width:40px;height:40px;border-radius:8px;box-shadow:0 0 0 1px rgba(0,0,0,.07) inset"></div>
<div class="a " style="left:350px;top:595.60px;font-size:12.7px;line-height:20px;font-weight:normal;color:#303030;">Branded Mug</div>
<div class="a" style="left:638px;top:596px;width:54px;height:20px;background:#affebf;border-radius:8px"></div>
<div class="a m2" style="left:646px;top:596.43px;font-size:13.2px;line-height:20px;font-weight:normal;color:#0c5132;">Active</div>
<div class="a " style="left:896px;top:597.22px;font-size:13.8px;line-height:20px;font-weight:normal;color:#6a0d2a;">5 in stock</div>
<div class="a " style="left:1251px;top:595.60px;font-size:12.7px;line-height:20px;font-weight:normal;color:#303030;">Mugs</div>
<div class="a " style="right:86px;top:595.60px;font-size:12.7px;line-height:20px;font-weight:normal;color:#303030;text-align:right;">3</div>
<div class="a" style="left:256px;top:685px;width:1648px;height:1px;background:#e3e3e3"></div>
<div class="a" style="left:269px;top:651px;width:16px;height:16px;background:#fdfdfd;border:1px solid #8a8a8a;border-radius:4px"></div>
<div class="a" style="left:298px;top:639px;width:40px;height:40px;border-radius:8px;overflow:hidden;box-shadow:0 0 0 1px rgba(0,0,0,.06) inset"><svg width="40" height="40" viewBox="0 0 40 40" style="display:block"><rect width="40" height="40" fill="#d9d9d9"/><rect x="10" y="5" width="21" height="28.5" fill="#eaeaea"/><rect x="10" y="5" width="20" height="28" fill="#131936"/><rect x="16.5" y="18.5" width="8" height="1.2" fill="#c0c4d4"/><path d="M9.8 6 L9.8 33" stroke="#555" stroke-width="1" stroke-dasharray="0.8 0.8"/></svg></div>
<div class="a" style="left:298px;top:639px;width:40px;height:40px;border-radius:8px;box-shadow:0 0 0 1px rgba(0,0,0,.07) inset"></div>
<div class="a " style="left:350px;top:648.60px;font-size:12.7px;line-height:20px;font-weight:normal;color:#303030;">Branded Notebook</div>
<div class="a" style="left:638px;top:649px;width:54px;height:20px;background:#affebf;border-radius:8px"></div>
<div class="a m2" style="left:646px;top:649.43px;font-size:13.2px;line-height:20px;font-weight:normal;color:#0c5132;">Active</div>
<div class="a " style="left:896px;top:650.22px;font-size:13.8px;line-height:20px;font-weight:normal;color:#6a0d2a;">4 in stock</div>
<div class="a " style="left:1251px;top:648.60px;font-size:12.7px;line-height:20px;font-weight:normal;color:#303030;">Notebooks &amp; Notepads</div>
<div class="a " style="right:86px;top:648.60px;font-size:12.7px;line-height:20px;font-weight:normal;color:#303030;text-align:right;">3</div>
<div class="a" style="left:256px;top:738px;width:1648px;height:1px;background:#e3e3e3"></div>
<div class="a" style="left:269px;top:704px;width:16px;height:16px;background:#fdfdfd;border:1px solid #8a8a8a;border-radius:4px"></div>
<div class="a" style="left:298px;top:692px;width:40px;height:40px;border-radius:8px;overflow:hidden;box-shadow:0 0 0 1px rgba(0,0,0,.06) inset"><svg width="40" height="40" viewBox="0 0 40 40" style="display:block"><rect width="40" height="40" fill="#d9d9d9"/><path d="M15 4 L18 3.5 L20 5 L22 3.5 L25 4 L32 8 L34.5 16 L29 18.5 L29 35.5 L11 35.5 L11 18.5 L5.5 16 L8 8 Z" fill="#18204d"/><path d="M17.5 3.5 L20 9 L22.5 3.5" stroke="#242c5c" stroke-width="1" fill="none"/><rect x="23" y="13" width="4" height="1" fill="#b0b6cc"/></svg></div>
<div class="a" style="left:298px;top:692px;width:40px;height:40px;border-radius:8px;box-shadow:0 0 0 1px rgba(0,0,0,.07) inset"></div>
<div class="a " style="left:350px;top:701.60px;font-size:12.7px;line-height:20px;font-weight:normal;color:#303030;">Branded Polo Shirt</div>
<div class="a" style="left:638px;top:702px;width:54px;height:20px;background:#affebf;border-radius:8px"></div>
<div class="a m2" style="left:646px;top:702.43px;font-size:13.2px;line-height:20px;font-weight:normal;color:#0c5132;">Active</div>
<div class="a " style="left:896px;top:703.22px;font-size:13.8px;line-height:20px;font-weight:normal;color:#303030;">24 in stock <span style="font-size:12.8px">for 5 variants</span></div>
<div class="a " style="left:1251px;top:701.60px;font-size:12.7px;line-height:20px;font-weight:normal;color:#303030;">Polos</div>
<div class="a " style="right:86px;top:701.60px;font-size:12.7px;line-height:20px;font-weight:normal;color:#303030;text-align:right;">3</div>
<div class="a" style="left:256px;top:791px;width:1648px;height:1px;background:#e3e3e3"></div>
<div class="a" style="left:269px;top:757px;width:16px;height:16px;background:#fdfdfd;border:1px solid #8a8a8a;border-radius:4px"></div>
<div class="a" style="left:298px;top:745px;width:40px;height:40px;border-radius:8px;overflow:hidden;box-shadow:0 0 0 1px rgba(0,0,0,.06) inset"><svg width="40" height="40" viewBox="0 0 40 40" style="display:block"><rect width="40" height="40" fill="#d9d9d9"/><path d="M15 4 C17 6 23 6 25 4 L32 8 L35 16 L29.5 19 L29.5 35.5 L11 35.5 L11 19 L5 16 L8 8 Z" fill="#161d45"/><rect x="22" y="13" width="5" height="1" fill="#8e96b4"/></svg></div>
<div class="a" style="left:298px;top:745px;width:40px;height:40px;border-radius:8px;box-shadow:0 0 0 1px rgba(0,0,0,.07) inset"></div>
<div class="a " style="left:350px;top:754.60px;font-size:12.7px;line-height:20px;font-weight:normal;color:#303030;">Branded Short Sleeve T-Shirt</div>
<div class="a" style="left:638px;top:755px;width:54px;height:20px;background:#affebf;border-radius:8px"></div>
<div class="a m2" style="left:646px;top:755.43px;font-size:13.2px;line-height:20px;font-weight:normal;color:#0c5132;">Active</div>
<div class="a " style="left:896px;top:756.22px;font-size:13.8px;line-height:20px;font-weight:normal;color:#303030;">25 in stock <span style="font-size:12.8px">for 5 variants</span></div>
<div class="a " style="left:1251px;top:754.60px;font-size:12.7px;line-height:20px;font-weight:normal;color:#303030;">T-Shirts</div>
<div class="a " style="right:86px;top:754.60px;font-size:12.7px;line-height:20px;font-weight:normal;color:#303030;text-align:right;">3</div>
<div class="a" style="left:256px;top:844px;width:1648px;height:1px;background:#e3e3e3"></div>
<div class="a" style="left:269px;top:810px;width:16px;height:16px;background:#fdfdfd;border:1px solid #8a8a8a;border-radius:4px"></div>
<div class="a" style="left:298px;top:798px;width:40px;height:40px;border-radius:8px;overflow:hidden;box-shadow:0 0 0 1px rgba(0,0,0,.06) inset"><svg width="40" height="40" viewBox="0 0 40 40" style="display:block"><rect width="40" height="40" fill="#d9d9d9"/><ellipse cx="20" cy="29.5" rx="12" ry="1.6" fill="#b8b8b8"/><path d="M7 14.5 C12 11 22 11 28 17 C32 21 35 25 35 29 C31 28 27 26 23 24 C17 21 11 18 7 14.5 Z" fill="#1c2458"/><path d="M23 24 C27 26 31 28 35 29 C34 25 31 21 28 18 Z" fill="#0f1433"/><path d="M17 26 L15.5 29" stroke="#777" stroke-width="0.9"/></svg></div>
<div class="a" style="left:298px;top:798px;width:40px;height:40px;border-radius:8px;box-shadow:0 0 0 1px rgba(0,0,0,.07) inset"></div>
<div class="a " style="left:350px;top:807.60px;font-size:12.7px;line-height:20px;font-weight:normal;color:#303030;">Branded Umbrella</div>
<div class="a" style="left:638px;top:808px;width:54px;height:20px;background:#affebf;border-radius:8px"></div>
<div class="a m2" style="left:646px;top:808.43px;font-size:13.2px;line-height:20px;font-weight:normal;color:#0c5132;">Active</div>
<div class="a " style="left:896px;top:809.22px;font-size:13.8px;line-height:20px;font-weight:normal;color:#6a0d2a;">5 in stock</div>
<div class="a " style="left:1251px;top:807.60px;font-size:12.7px;line-height:20px;font-weight:normal;color:#303030;">Rain Umbrellas</div>
<div class="a " style="right:86px;top:807.60px;font-size:12.7px;line-height:20px;font-weight:normal;color:#303030;text-align:right;">3</div>
<div class="a" style="left:256px;top:897px;width:1648px;height:1px;background:#e3e3e3"></div>
<div class="a" style="left:269px;top:863px;width:16px;height:16px;background:#fdfdfd;border:1px solid #8a8a8a;border-radius:4px"></div>
<div class="a" style="left:298px;top:851px;width:40px;height:40px;border-radius:8px;overflow:hidden;box-shadow:0 0 0 1px rgba(0,0,0,.06) inset"><svg width="40" height="40" viewBox="0 0 40 40" style="display:block"><rect width="40" height="40" fill="#d9d9d9"/><path d="M18.5 5 L20.5 5 L21 30 L20 36.5 L19 30 Z" fill="#242424"/></svg></div>
<div class="a" style="left:298px;top:851px;width:40px;height:40px;border-radius:8px;box-shadow:0 0 0 1px rgba(0,0,0,.07) inset"></div>
<div class="a " style="left:350px;top:860.60px;font-size:12.7px;line-height:20px;font-weight:normal;color:#303030;">Ball Point Pen</div>
<div class="a" style="left:638px;top:861px;width:54px;height:20px;background:#affebf;border-radius:8px"></div>
<div class="a m2" style="left:646px;top:861.43px;font-size:13.2px;line-height:20px;font-weight:normal;color:#0c5132;">Active</div>
<div class="a " style="left:896px;top:862.22px;font-size:13.8px;line-height:20px;font-weight:normal;color:#6a0d2a;">4 in stock</div>
<div class="a " style="left:1251px;top:860.60px;font-size:12.7px;line-height:20px;font-weight:normal;color:#303030;">Uncategorized</div>
<div class="a " style="right:86px;top:860.60px;font-size:12.7px;line-height:20px;font-weight:normal;color:#303030;text-align:right;">3</div>
<div class="a" style="left:256px;top:950px;width:1648px;height:1px;background:#e3e3e3"></div>
<div class="a" style="left:269px;top:916px;width:16px;height:16px;background:#fdfdfd;border:1px solid #8a8a8a;border-radius:4px"></div>
<div class="a" style="left:298px;top:904px;width:40px;height:40px;border-radius:8px;overflow:hidden;box-shadow:0 0 0 1px rgba(0,0,0,.06) inset"><svg width="40" height="40" viewBox="0 0 40 40" style="display:block"><rect width="40" height="40" fill="#d9d9d9"/><rect x="19.4" y="0" width="1.7" height="14" fill="#1a1a1a"/><ellipse cx="20" cy="25.5" rx="12.8" ry="12.5" fill="#141414"/><path d="M17 21.5 L19.8 27.5 L22.6 21.5" stroke="#d8d8d8" stroke-width="1.3" fill="none"/></svg></div>
<div class="a" style="left:298px;top:904px;width:40px;height:40px;border-radius:8px;box-shadow:0 0 0 1px rgba(0,0,0,.07) inset"></div>
<div class="a " style="left:350px;top:913.60px;font-size:12.7px;line-height:20px;font-weight:normal;color:#303030;">Black Wireless Charger with White V Logo</div>
<div class="a" style="left:638px;top:914px;width:54px;height:20px;background:#affebf;border-radius:8px"></div>
<div class="a m2" style="left:646px;top:914.43px;font-size:13.2px;line-height:20px;font-weight:normal;color:#0c5132;">Active</div>
<div class="a " style="left:896px;top:915.22px;font-size:13.8px;line-height:20px;font-weight:normal;color:#6a0d2a;">5 in stock</div>
<div class="a " style="left:1251px;top:913.60px;font-size:12.7px;line-height:20px;font-weight:normal;color:#303030;">Uncategorized</div>
<div class="a " style="right:86px;top:913.60px;font-size:12.7px;line-height:20px;font-weight:normal;color:#303030;text-align:right;">3</div>
<div class="a" style="left:541px;top:277px;width:192px;height:350px;background:#fdfdfd;border-radius:12px;box-shadow:0 4px 12px rgba(0,0,0,.12),0 0 0 1px rgba(0,0,0,.06)"></div>
<div class="a" style="left:554px;top:295px;width:16px;height:16px;background:#fdfdfd;border:1px solid #8a8a8a;border-radius:4px"></div>
<div class="a " style="left:579px;top:294.02px;font-size:13.8px;line-height:20px;font-weight:normal;color:#303030;">Baseball Caps</div>
<div class="a" style="left:554px;top:323px;width:16px;height:16px;background:#fdfdfd;border:1px solid #8a8a8a;border-radius:4px"></div>
<div class="a " style="left:579px;top:322.02px;font-size:13.8px;line-height:20px;font-weight:normal;color:#303030;">Bucket Hats</div>
<div class="a" style="left:554px;top:351px;width:16px;height:16px;background:#fdfdfd;border:1px solid #8a8a8a;border-radius:4px"></div>
<div class="a " style="left:579px;top:350.02px;font-size:13.8px;line-height:20px;font-weight:normal;color:#303030;">Hoodies</div>
<div class="a" style="left:554px;top:379px;width:16px;height:16px;background:#fdfdfd;border:1px solid #8a8a8a;border-radius:4px"></div>
<div class="a " style="left:579px;top:378.02px;font-size:13.8px;line-height:20px;font-weight:normal;color:#303030;">Keychains</div>
<div class="a" style="left:554px;top:407px;width:16px;height:16px;background:#fdfdfd;border:1px solid #8a8a8a;border-radius:4px"></div>
<div class="a " style="left:579px;top:406.02px;font-size:13.8px;line-height:20px;font-weight:normal;color:#303030;">Mugs</div>
<div class="a" style="left:554px;top:435px;width:16px;height:16px;background:#fdfdfd;border:1px solid #8a8a8a;border-radius:4px"></div>
<div class="a " style="left:579px;top:434.02px;font-size:13.8px;line-height:20px;font-weight:normal;color:#303030;">Notebooks &amp; Notepads</div>
<div class="a" style="left:554px;top:463px;width:16px;height:16px;background:#fdfdfd;border:1px solid #8a8a8a;border-radius:4px"></div>
<div class="a " style="left:579px;top:462.02px;font-size:13.8px;line-height:20px;font-weight:normal;color:#303030;">Polos</div>
<div class="a" style="left:554px;top:491px;width:16px;height:16px;background:#fdfdfd;border:1px solid #8a8a8a;border-radius:4px"></div>
<div class="a " style="left:579px;top:490.02px;font-size:13.8px;line-height:20px;font-weight:normal;color:#303030;">Rain Umbrellas</div>
<div class="a" style="left:554px;top:519px;width:16px;height:16px;background:#fdfdfd;border:1px solid #8a8a8a;border-radius:4px"></div>
<div class="a " style="left:579px;top:518.02px;font-size:13.8px;line-height:20px;font-weight:normal;color:#303030;">T-Shirts</div>
<div class="a" style="left:554px;top:547px;width:16px;height:16px;background:#fdfdfd;border:1px solid #8a8a8a;border-radius:4px"></div>
<div class="a " style="left:579px;top:546.02px;font-size:13.8px;line-height:20px;font-weight:normal;color:#303030;">Uncategorized</div>
<div class="a" style="left:554px;top:575px;width:16px;height:16px;background:#fdfdfd;border:1px solid #8a8a8a;border-radius:4px"></div>
<div class="a " style="left:579px;top:574.02px;font-size:13.8px;line-height:20px;font-weight:normal;color:#303030;">Water Bottles</div>
<div class="a " style="left:553px;top:601.82px;font-size:13.5px;line-height:20px;font-weight:normal;color:#b5b5b5;">Clear</div>
<svg class="a" style="left:671px;top:290px;" width="12" height="18" viewBox="0 0 12 18"><path d="M1 1 L1 14 L4 11 L6.5 16.5 L8.5 15.5 L6 10 L10.5 10 Z" fill="#111" stroke="#fff" stroke-width="1"/></svg>
<div class="a" style="left:1751px;top:903px;width:169px;height:31px;background:#1b1f1e;border-top-left-radius:10px"></div>
<svg class="a" style="left:1757px;top:913px;" width="13" height="14" viewBox="0 0 13 14"><rect x="1" y="1" width="11" height="12" rx="2.5" stroke="#4ee04e" stroke-width="1.6" fill="none"/><path d="M4 9.5 L9 9.5" stroke="#4ee04e" stroke-width="1.6"/></svg>
<div class="a " style="left:1780px;top:909.84px;font-size:12px;line-height:20px;font-weight:normal;color:#e3e3e3;">dev previews</div>
<div class="a " style="left:1854px;top:910.02px;font-size:11.5px;line-height:20px;font-weight:normal;color:#9a9a9a;">(1)</div>
<svg class="a" style="left:1889px;top:913px;" width="11" height="11" viewBox="0 0 11 11"><path d="M1 1 L10 10 M10 1 L1 10" stroke="#9a9a9a" stroke-width="1.3"/></svg>
</body></html>
